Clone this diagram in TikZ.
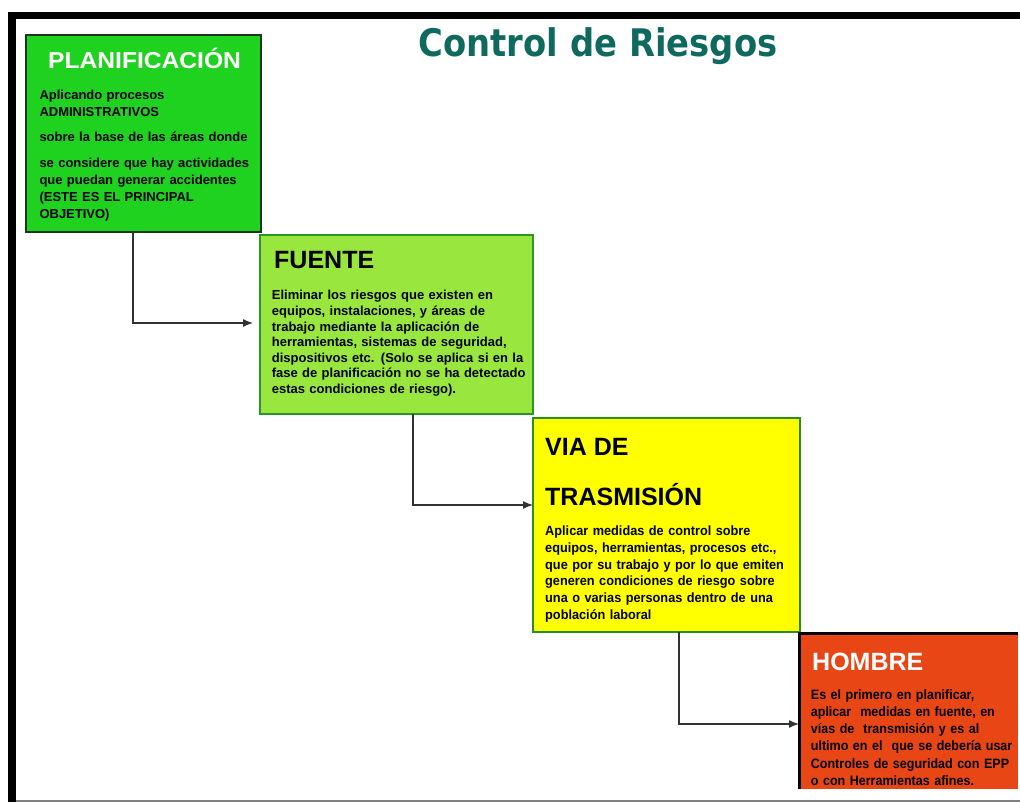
\documentclass[tikz,border=0pt]{standalone}
\usepackage{fontspec}
\setmainfont{Liberation Sans}
\newfontfamily\bodyf{Liberation Sans}
\newfontfamily\bodyn[FakeStretch=0.95]{Liberation Sans}
\newfontfamily\bodynn[FakeStretch=0.92]{Liberation Sans}
\newfontfamily\headwide[FakeStretch=1.07]{Liberation Sans}
\newfontfamily\titlef[FakeStretch=0.89]{DejaVu Sans}
\usetikzlibrary{arrows.meta}
\definecolor{titlecol}{RGB}{15,105,95}
\definecolor{plancol}{RGB}{32,210,32}
\definecolor{planborder}{RGB}{25,55,25}
\definecolor{fuentecol}{RGB}{152,230,62}
\definecolor{fuenteborder}{RGB}{40,150,40}
\definecolor{viacol}{RGB}{255,255,0}
\definecolor{viaborder}{RGB}{40,140,40}
\definecolor{hombrecol}{RGB}{232,70,20}
\definecolor{conncol}{RGB}{50,50,50}
\tikzset{
  stepbox/.style={draw, rectangle, inner sep=0pt, outer sep=0pt},
  heading/.style={anchor=base west, inner sep=0pt, font=\bodyf\bfseries\fontsize{25}{30}\selectfont},
  body/.style={anchor=base west, inner sep=0pt, align=left, text width=300pt, font=\bodyf\bfseries\fontsize{13}{17}\selectfont},
  conn/.style={draw=conncol, line width=1.3pt, -{Latex[length=10pt,width=8pt]}},
}
\begin{document}
\begin{tikzpicture}[x=1pt,y=-1pt]
\useasboundingbox (0,0) rectangle (1020,802);
% frame
\fill[white] (0,0) rectangle (1020,802);
\fill[black] (8,12) rectangle (1020,19);
\fill[black] (8,12) rectangle (16,802);
\draw[gray, line width=2pt] (16,800.5) -- (1020,800.5);

% title
\node[anchor=base, inner sep=0pt, text=titlecol, font=\titlef\bfseries\fontsize{38}{44}\selectfont] (title) at (598,57) {Control de Riesgos};

% boxes
\node[stepbox, fill=plancol, draw=planborder, line width=2.5pt, minimum width=235, minimum height=197] (plan) at (143.5,133.5) {};
\node[stepbox, fill=fuentecol, draw=fuenteborder, line width=2pt, minimum width=273, minimum height=179] (fuente) at (396.5,324.5) {};
\node[stepbox, fill=viacol, draw=viaborder, line width=2pt, minimum width=267, minimum height=214] (via) at (666.5,525) {};
\node[stepbox, fill=hombrecol, draw=none, minimum width=219, minimum height=156] (hombre) at (908.5,711) {};
\draw[black, line width=3pt] (hombre.south west) -- (hombre.north west) -- (hombre.north east);

% headings
\node[heading, text=white, font=\headwide\bfseries\fontsize{23}{28}\selectfont] (planh) at (48,68.3) {PLANIFICACIÓN};
\node[heading] (fuenteh) at (274,268.3) {FUENTE};
\node[heading] (viah1) at (545,455) {VIA DE};
\node[heading] (viah2) at (545,505) {TRASMISIÓN};
\node[heading, text=white] (hombreh) at (812,670) {HOMBRE};

% bodies
\node[body] (planb) at (39.3,99.3) {Aplicando procesos\\ADMINISTRATIVOS\\[8pt]sobre la base de las áreas donde\\[9pt]se considere que hay actividades\\que puedan generar accidentes\\(ESTE ES EL PRINCIPAL\\OBJETIVO)};
\node[body, font=\bodyf\bfseries\fontsize{13}{15.6}\selectfont] (fuenteb) at (271.7,300) {Eliminar los riesgos que existen en\\equipos, instalaciones, y áreas de\\trabajo mediante la aplicación de\\herramientas, sistemas de seguridad,\\dispositivos etc. (Solo se aplica si en la\\fase de planificación no se ha detectado\\estas condiciones de riesgo).};
\node[body, font=\bodyn\bfseries\fontsize{13.4}{16.7}\selectfont] (viab) at (545,535.7) {Aplicar medidas de control sobre\\equipos, herramientas, procesos etc.,\\que por su trabajo y por lo que emiten\\generen condiciones de riesgo sobre\\una o varias personas dentro de una\\población laboral};
\node[body, font=\bodynn\bfseries\fontsize{13.6}{17.3}\selectfont] (hombreb) at (810.7,699) {Es el primero en planificar,\\aplicar\ \ medidas en fuente, en\\vías de\ \ transmisión y es al\\ultimo en el\ \ que se debería usar\\Controles de seguridad con EPP\\o con Herramientas afines.};

% connectors
\coordinate (k1) at (133,323);
\coordinate (k2) at (413,505);
\coordinate (k3) at (679,724);
\draw[conn, shorten >=7pt] (plan.south -| k1) |- (fuente.west |- k1);
\draw[conn] (fuente.south -| k2) |- (via.west |- k2);
\draw[conn] (via.south -| k3) |- (hombre.west |- k3);
\end{tikzpicture}
\end{document}
